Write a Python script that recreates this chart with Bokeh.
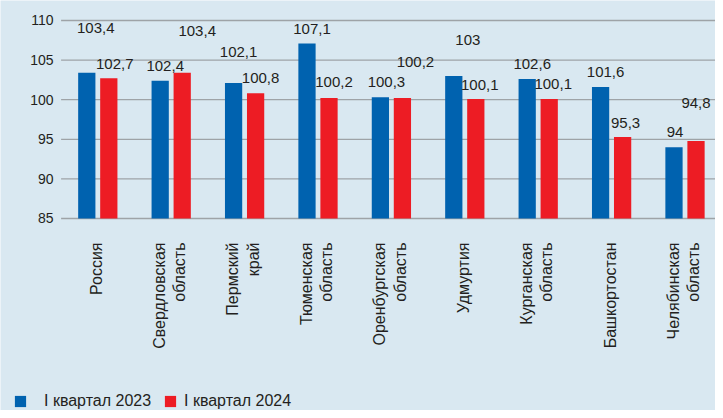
import numpy as np
from bokeh.plotting import figure
from bokeh.models import ColumnDataSource, Range1d, Legend, LegendItem
from bokeh.transform import dodge
from bokeh.core.properties import value
from bokeh.embed import file_html
from bokeh.resources import INLINE

# ---- data ----
regions = ["Россия", "Свердловская\nобласть", "Пермский\nкрай", "Тюменская\nобласть",
           "Оренбургская\nобласть", "Удмуртия", "Курганская\nобласть", "Башкортостан",
           "Челябинская\nобласть"]
q1_2023 = [103.4, 102.4, 102.1, 107.1, 100.3, 103.0, 102.6, 101.6, 94.0]
q1_2024 = [102.7, 103.4, 100.8, 100.2, 100.2, 100.1, 100.1, 95.3, 94.8]
y_ticks = [85, 90, 95, 100, 105, 110]
series_names = ["I квартал 2023", "I квартал 2024"]

# ---- label placement (positions, kept apart from the data) ----
lab23_y = [109.0, 104.2, 106.0, 108.9, 102.2, 107.6, 104.5, 103.5, 95.9]
lab23_dx = [-2, -6, -6, -6, -5, 3, -6, -6, -10]
lab24_y = [104.5, 108.7, 102.7, 102.2, 104.8, 101.9, 102.0, 97.1, 99.6]
lab24_dx = [17, 26, 16, 16, 24, 15, 15, 14, 11]

BG = "#d9e8f1"
BLUE = "#0062af"
RED = "#ed1c24"
TXT = "#231f20"
GRID = "#9ea3a7"
FONT = value("Liberation Sans")

W, H = 715, 410
PX_PER_CAT = 73.4           # pixel width of one category slot
LEFT = 60.6                 # pixel where the first slot begins
PX_PER_UNIT = 7.92          # pixels per y unit
Y_TOP = 112.525             # y value at the top edge

x0 = -0.5 - LEFT / PX_PER_CAT
x1 = x0 + W / PX_PER_CAT
y1 = Y_TOP
y0 = Y_TOP - H / PX_PER_UNIT


def fmt(v):
    return ("%g" % v).replace(".", ",")


idx = list(range(len(regions)))
src = ColumnDataSource(dict(
    pos=idx, region=regions, q23=q1_2023, q24=q1_2024,
    t23=[fmt(v) for v in q1_2023], t24=[fmt(v) for v in q1_2024],
    y23=lab23_y, dx23=lab23_dx, y24=lab24_y, dx24=lab24_dx,
))

p = figure(x_range=Range1d(x0, x1), y_range=Range1d(y0, y1),
           width=W, height=H, output_backend="svg", toolbar_location=None,
           x_axis_location=None, y_axis_location=None,
           min_border_left=0, min_border_right=0, min_border_top=0, min_border_bottom=0,
           background_fill_color=BG, border_fill_color=BG, outline_line_color=None)
p.xgrid.visible = False
p.ygrid.visible = False

# grid lines at the y ticks (start at the first category slot)
p.segment(x0=-0.5, x1=x1, y0=y_ticks, y1=y_ticks, line_color=GRID, line_width=1.3)

# y tick labels
p.text(x=x0 + 53 / PX_PER_CAT, y=y_ticks, text=[str(t) for t in y_ticks],
       text_align="right", text_baseline="middle", text_font=FONT,
       text_font_size="14px", text_color=TXT)

r1 = p.vbar(x=dodge("pos", -0.15), top="q23", bottom=85, width=0.235, source=src,
            fill_color=BLUE, line_color=None)
r2 = p.vbar(x=dodge("pos", 0.15), top="q24", bottom=85, width=0.235, source=src,
            fill_color=RED, line_color=None)

# value labels
p.text(x="pos", y="y23", text="t23", x_offset="dx23", source=src,
       text_align="center", text_baseline="middle", text_font=FONT,
       text_font_size="15px", text_color=TXT)
p.text(x="pos", y="y24", text="t24", x_offset="dx24", source=src,
       text_align="center", text_baseline="middle", text_font=FONT,
       text_font_size="15px", text_color=TXT)

# category labels (rotated)
p.text(x=dodge("pos", -0.02), y=81.97, text="region", source=src,
       angle=np.pi / 2, text_align="right", text_baseline="middle", text_font=FONT,
       text_font_size="16px", text_color=TXT, text_line_height=1.2)

common = dict(orientation="horizontal", glyph_width=14, glyph_height=14, label_height=20,
              padding=0, margin=0, border_line_color=None, background_fill_alpha=0,
              label_text_font="Liberation Sans", label_text_font_size="16px",
              label_text_color=TXT)
p.add_layout(Legend(items=[LegendItem(label=series_names[0], renderers=[r1])],
                    location=(13, -1), label_standoff=17, **common))
p.add_layout(Legend(items=[LegendItem(label=series_names[1], renderers=[r2])],
                    location=(163, -1), label_standoff=7, **common))

open("out.html", "w").write(file_html(p, INLINE))
